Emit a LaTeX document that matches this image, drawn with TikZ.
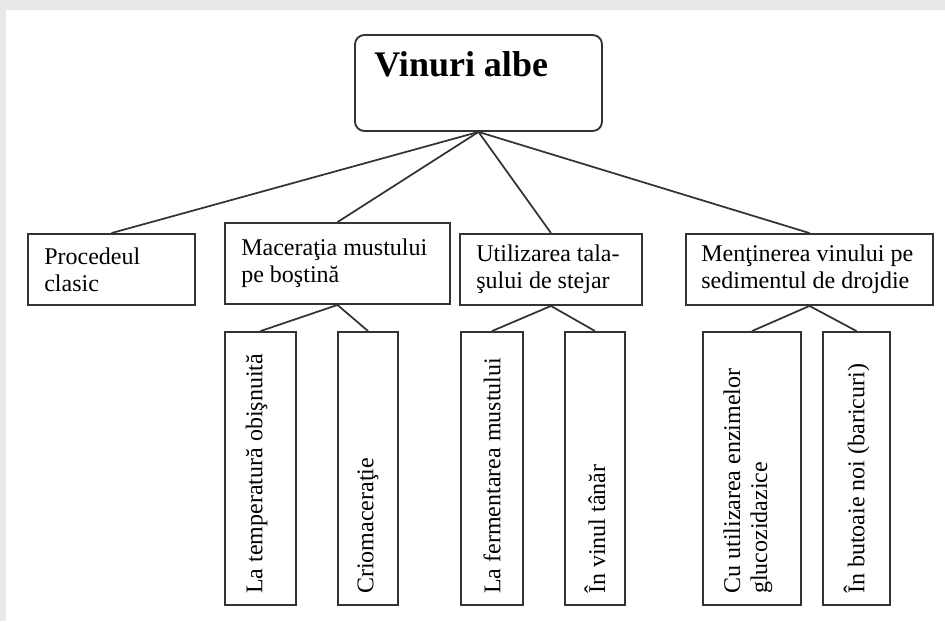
\documentclass[tikz,border=0pt]{standalone}
\usepackage{fontspec}
\setmainfont{Liberation Serif}
\usetikzlibrary{fit}

\tikzset{
    box/.style={draw=black!80, line width=1.4pt, inner sep=0pt},
    topbox/.style={box, rounded corners=7pt},
    txt/.style={inner sep=0pt, align=left, text=black,
        font=\fontsize{18}{20.25}\selectfont},
    vtxt/.style={txt, rotate=90, anchor=west},
    link/.style={draw=black!80, line width=1.3pt},
}

\begin{document}
\begin{tikzpicture}[x=0.75pt, y=-0.75pt]
    \useasboundingbox (0, 0) rectangle (945, 621);
    \fill[black!9] (0, 0) rectangle (945, 621);
    \fill[white] (6, 10) rectangle (945, 621);

    \node[topbox, fit={(355, 35) (602, 131)}] (vin) {};
    \node[txt, anchor=base west, font=\fontsize{27}{30}\selectfont\bfseries]
        (vint) at ([xshift=15pt, yshift=-31.5pt]vin.north west) {Vinuri albe};

    \node[box, fit={(28, 234) (195, 305)}] (proc) {};
    \node[box, fit={(225, 223) (450, 304)}] (mac) {};
    \node[box, fit={(460, 234) (642, 305)}] (util) {};
    \node[box, fit={(686, 234) (933, 305)}] (ment) {};

    \node[txt, anchor=west] (proct) at ([xshift=12.75pt]proc.west) {Procedeul\\clasic};
    \node[txt, anchor=west] (mact) at ([xshift=12.75pt]mac.west) {Maceraţia mustului\\pe boştină};
    \node[txt, anchor=west] (utilt) at ([xshift=12.75pt]util.west) {Utilizarea tala-\\şului de stejar};
    \node[txt, anchor=west] (mentt) at ([xshift=12pt]ment.west) {Menţinerea vinului pe\\sedimentul de drojdie};

    \node[box, fit={(225, 332) (296, 605)}] (temp) {};
    \node[box, fit={(338, 332) (398, 605)}] (crio) {};
    \node[box, fit={(461, 332) (523, 605)}] (ferm) {};
    \node[box, fit={(565, 332) (625, 605)}] (tanar) {};
    \node[box, fit={(703, 332) (801, 605)}] (enz) {};
    \node[box, fit={(823, 332) (890, 605)}] (but) {};

    \node[vtxt] (tempt) at ([xshift=-3pt, yshift=9pt]temp.south) {La temperatură obişnuită};
    \node[vtxt] (criot) at ([yshift=9pt]crio.south) {Criomaceraţie};
    \node[vtxt] (fermt) at ([yshift=9pt]ferm.south) {La fermentarea mustului};
    \node[vtxt] (tanart) at ([yshift=9pt]tanar.south) {În vinul tânăr};
    \node[vtxt] (enzt) at ([xshift=-3pt, yshift=9pt]enz.south) {Cu utilizarea enzimelor\\glucozidazice};
    \node[vtxt] (butt) at ([yshift=9pt]but.south) {În butoaie noi (baricuri)};

    \foreach \c in {proc, mac, util, ment}
        \draw[link] (vin.south) -- (\c.north);
    \draw[link] (temp.north) -- (mac.south) -- (crio.north);
    \draw[link] (ferm.north) -- (util.south) -- (tanar.north);
    \draw[link] (enz.north) -- (ment.south) -- (but.north);
\end{tikzpicture}
\end{document}
